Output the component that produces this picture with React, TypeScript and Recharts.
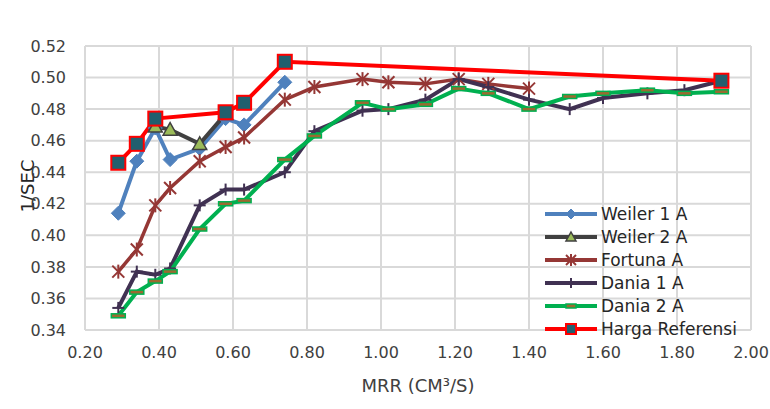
import React from 'react';
import { LineChart, Line, XAxis, YAxis, CartesianGrid, Label } from 'recharts';

const xTicks = [0.2, 0.4, 0.6, 0.8, 1.0, 1.2, 1.4, 1.6, 1.8, 2.0];
const yTicks = [0.34, 0.36, 0.38, 0.4, 0.42, 0.44, 0.46, 0.48, 0.5, 0.52];

const weiler1X = [0.29, 0.34, 0.39, 0.43, 0.51, 0.58, 0.63, 0.74];
const weiler1Y = [0.414, 0.447, 0.468, 0.448, 0.455, 0.474, 0.47, 0.497];
const weiler2X = [0.39, 0.43, 0.51, 0.58];
const weiler2Y = [0.469, 0.467, 0.458, 0.477];
const fortunaX = [0.29, 0.34, 0.39, 0.43, 0.51, 0.58, 0.63, 0.74, 0.82, 0.95, 1.02, 1.12, 1.21, 1.29, 1.4];
const fortunaY = [0.377, 0.391, 0.419, 0.43, 0.447, 0.456, 0.462, 0.486, 0.494, 0.499, 0.497, 0.496, 0.499, 0.496, 0.493];
const dania1X = [0.29, 0.34, 0.39, 0.43, 0.51, 0.58, 0.63, 0.74, 0.82, 0.95, 1.02, 1.12, 1.21, 1.29, 1.4, 1.51, 1.6, 1.72, 1.82, 1.92];
const dania1Y = [0.354, 0.377, 0.375, 0.379, 0.419, 0.429, 0.429, 0.44, 0.466, 0.479, 0.48, 0.486, 0.499, 0.494, 0.486, 0.48, 0.487, 0.49, 0.492, 0.498];
const dania2X = [0.29, 0.34, 0.39, 0.43, 0.51, 0.58, 0.63, 0.74, 0.82, 0.95, 1.02, 1.12, 1.21, 1.29, 1.4, 1.51, 1.6, 1.72, 1.82, 1.92];
const dania2Y = [0.349, 0.364, 0.371, 0.377, 0.404, 0.42, 0.422, 0.448, 0.463, 0.484, 0.48, 0.483, 0.493, 0.49, 0.48, 0.488, 0.49, 0.492, 0.49, 0.491];
const hargaX = [0.29, 0.34, 0.39, 0.58, 0.63, 0.74, 1.92];
const hargaY = [0.446, 0.458, 0.474, 0.478, 0.484, 0.51, 0.498];

const seriesNames = ['Weiler 1 A', 'Weiler 2 A', 'Fortuna A', 'Dania 1 A', 'Dania 2 A', 'Harga Referensi'];

const zip = (xs: number[], ys: number[]) => xs.map((x, i) => ({ x, y: ys[i] }));

const C = {
  w1: '#4f81bd',
  w2: '#404040',
  w2fill: '#9bbb59',
  fo: '#953735',
  d1: '#403152',
  d2: '#00b050',
  d2mark: '#9a6a30',
  hr: '#ff0000',
  hrfill: '#215f6e',
};

const DiamondM = ({ cx, cy, s = 7 }: any) => (
  <polygon points={`${cx},${cy - s} ${cx + s},${cy} ${cx},${cy + s} ${cx - s},${cy}`} fill={C.w1} stroke={C.w1} strokeWidth={1} />
);
const TriM = ({ cx, cy, s = 7 }: any) => (
  <polygon points={`${cx},${cy - s} ${cx + s},${cy + s * 0.8} ${cx - s},${cy + s * 0.8}`} fill={C.w2fill} stroke={C.w2} strokeWidth={1.5} />
);
const StarM = ({ cx, cy, s = 6 }: any) => (
  <g stroke={C.fo} strokeWidth={2}>
    <line x1={cx - s} y1={cy - s} x2={cx + s} y2={cy + s} />
    <line x1={cx - s} y1={cy + s} x2={cx + s} y2={cy - s} />
    <line x1={cx} y1={cy - s - 1} x2={cx} y2={cy + s + 1} />
  </g>
);
const PlusM = ({ cx, cy, s = 6 }: any) => (
  <g stroke={C.d1} strokeWidth={2}>
    <line x1={cx} y1={cy - s} x2={cx} y2={cy + s} />
    <line x1={cx - s} y1={cy} x2={cx + s} y2={cy} />
  </g>
);
const DashM = ({ cx, cy, s = 7 }: any) => (
  <rect x={cx - s} y={cy - 2} width={s * 2} height={4} fill={C.d2mark} stroke={C.d2} strokeWidth={1.5} />
);
const SquareM = ({ cx, cy, s = 7 }: any) => (
  <rect x={cx - s} y={cy - s} width={s * 2} height={s * 2} fill={C.hrfill} stroke={C.hr} strokeWidth={2} />
);

const mk = (Comp: any) => (props: any) => {
  const { cx, cy, index } = props;
  if (cx == null || cy == null) return <g key={`e-${index}`} />;
  return <Comp key={`m-${index}`} cx={cx} cy={cy} />;
};

const legendItems = [
  { name: seriesNames[0], color: C.w1, M: DiamondM, w: 4 },
  { name: seriesNames[1], color: C.w2, M: TriM, w: 4 },
  { name: seriesNames[2], color: C.fo, M: StarM, w: 4 },
  { name: seriesNames[3], color: C.d1, M: PlusM, w: 4 },
  { name: seriesNames[4], color: C.d2, M: DashM, w: 4 },
  { name: seriesNames[5], color: C.hr, M: SquareM, w: 4 },
];

const YLabel = () => (
  <text x={0} y={0} transform="translate(34,186) rotate(-90)" textAnchor="middle" fill="#262626" fontSize={18}>
    1/SEC
  </text>
);

export default function App() {
  return (
    <div style={{ position: 'absolute', left: 0, top: 0, width: 770, height: 409, background: '#fff', fontFamily: 'DejaVu Sans, sans-serif' }}>
      <LineChart width={770} height={409} margin={{ top: 46, right: 19, left: 0, bottom: 0 }}>
        <CartesianGrid stroke="#d9d9d9" strokeWidth={2} />
        <XAxis
          type="number"
          dataKey="x"
          domain={[0.2, 2.0]}
          ticks={xTicks}
          tickFormatter={(v: number) => v.toFixed(2)}
          height={79}
          axisLine={{ stroke: '#d9d9d9', strokeWidth: 2 }}
          tickLine={false}
          tickSize={0}
          tickMargin={17}
          tick={{ fill: '#404040', fontSize: 16 }}
          allowDuplicatedCategory={false}
        >
          <Label value="MRR (CM³/S)" position="insideBottom" offset={17} fill="#404040" fontSize={18} />
        </XAxis>
        <YAxis
          type="number"
          dataKey="y"
          domain={[0.34, 0.52]}
          ticks={yTicks}
          tickFormatter={(v: number) => v.toFixed(2)}
          width={85}
          axisLine={{ stroke: '#d9d9d9', strokeWidth: 2 }}
          tickLine={false}
          tickSize={0}
          tickMargin={19}
          tick={{ fill: '#404040', fontSize: 16 }}
          label={{ content: () => <YLabel /> }}
        />
        <Line data={zip(weiler1X, weiler1Y)} dataKey="y" name={seriesNames[0]} stroke={C.w1} strokeWidth={4} dot={mk(DiamondM)} activeDot={false} isAnimationActive={false} />
        <Line data={zip(weiler2X, weiler2Y)} dataKey="y" name={seriesNames[1]} stroke={C.w2} strokeWidth={4} dot={mk(TriM)} activeDot={false} isAnimationActive={false} />
        <Line data={zip(fortunaX, fortunaY)} dataKey="y" name={seriesNames[2]} stroke={C.fo} strokeWidth={3.5} dot={mk(StarM)} activeDot={false} isAnimationActive={false} />
        <Line data={zip(dania1X, dania1Y)} dataKey="y" name={seriesNames[3]} stroke={C.d1} strokeWidth={4} dot={mk(PlusM)} activeDot={false} isAnimationActive={false} />
        <Line data={zip(dania2X, dania2Y)} dataKey="y" name={seriesNames[4]} stroke={C.d2} strokeWidth={4} dot={mk(DashM)} activeDot={false} isAnimationActive={false} />
        <Line data={zip(hargaX, hargaY)} dataKey="y" name={seriesNames[5]} stroke={C.hr} strokeWidth={4} dot={mk(SquareM)} activeDot={false} isAnimationActive={false} />
      </LineChart>
      <div style={{ position: 'absolute', left: 543, top: 202, width: 225 }}>
        {legendItems.map((it) => (
          <div key={it.name} style={{ display: 'flex', alignItems: 'center', height: 23 }}>
            <svg width={56} height={20} style={{ flex: 'none' }}>
              <line x1={2} y1={10} x2={54} y2={10} stroke={it.color} strokeWidth={it.w} />
              <it.M cx={28} cy={10} s={5} />
            </svg>
            <span style={{ fontSize: 17, color: '#262626', marginLeft: 2, whiteSpace: 'nowrap' }}>{it.name}</span>
          </div>
        ))}
      </div>
    </div>
  );
}
